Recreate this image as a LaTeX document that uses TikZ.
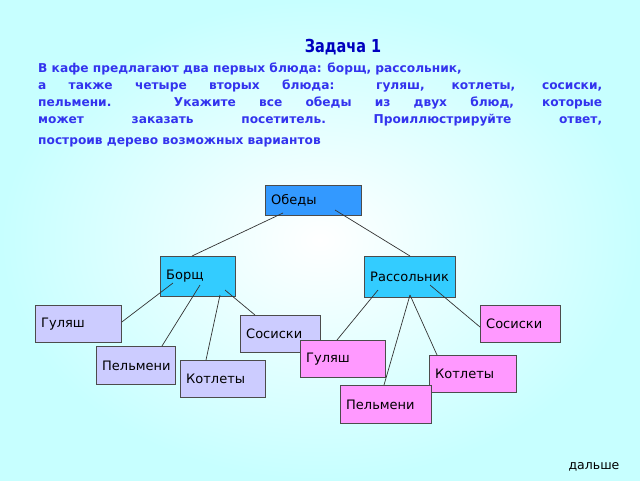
\documentclass[tikz,border=0pt]{standalone}
\usepackage{fontspec}
\setmainfont{DejaVu Sans}
\newfontfamily\condfont{DejaVu Sans Condensed}
\usetikzlibrary{calc}
\definecolor{bluet}{HTML}{3333EE}
\definecolor{cblue}{HTML}{33CCFF}
\definecolor{dblue}{HTML}{3399FF}
\definecolor{lilac}{HTML}{CCCCFF}
\definecolor{pinkb}{HTML}{FF99FF}
\begin{document}
\begin{tikzpicture}[x=1pt,y=-1pt,
  box/.style={draw=black!70,line width=0.8pt,anchor=north west,inner sep=0pt},
  lbl/.style={anchor=west,inner sep=0pt,font=\fontsize{13}{15}\selectfont},
  ln/.style={draw=black!80,line width=0.7pt}]
\useasboundingbox (0,0) rectangle (640,480);
\shade[inner color=white,outer color=cyan!22] (0,0) rectangle (640,480);
\newcommand\bx[7]{\node[box,fill=#6,minimum width=#4pt,minimum height=#5pt] (#1) at (#2,#3) {};
  \node[lbl] (#1t) at ($(#1.west)+(6,0)$) {#7};}
% title
\node[font=\condfont\bfseries\fontsize{21}{24}\selectfont,text=blue!75!black,inner sep=0pt,
  scale=0.85,xscale=0.9] (title) at (343,47) {Задача 1};
\node[anchor=north west,inner sep=0pt,text=bluet,font=\bfseries\fontsize{12.2}{17}\selectfont] (txt) at (38,63)
 {\parbox{564pt}{\setlength{\parfillskip}{0pt}%
 В кафе предлагают два первых блюда: борщ, рассольник,\\
 \hbox to 564pt{а также четыре вторых блюда: гуляш, котлеты, сосиски,}\\
 \hbox to 564pt{пельмени. Укажите все обеды из двух блюд, которые}\\
 \hbox to 564pt{может\hfil заказать\hfil посетитель.\hfil Проиллюстрируйте\hfil ответ,}\\[4pt]
 \hbox{построив дерево возможных вариантов}}};
\bx{obed}{265}{185}{96}{30}{dblue}{Обеды}
\bx{bor}{160}{256}{75}{40}{cblue}{Борщ}
\bx{ras}{364}{256}{91}{41}{cblue}{Рассольник}
\bx{g1}{35}{305}{86}{37}{lilac}{Гуляш}
\bx{s1}{240}{315}{80}{37}{lilac}{Сосиски}
\bx{p1}{96}{346}{79}{38}{lilac}{Пельмени}
\bx{k1}{180}{360}{85}{37}{lilac}{Котлеты}
\bx{s2}{480}{305}{80}{37}{pinkb}{Сосиски}
\bx{g2}{300}{340}{85}{37}{pinkb}{Гуляш}
\bx{k2}{429}{355}{87}{37}{pinkb}{Котлеты}
\bx{p2}{340}{385}{91}{38}{pinkb}{Пельмени}
% connectors
\draw[ln] ($(obed.north west)+(18,28)$) -- ($(bor.north west)+(32,0)$);
\draw[ln] ($(obed.north west)+(70,25)$) -- ($(ras.north west)+(46,0)$);
\draw[ln] ($(bor.north west)+(13,27)$) -- ($(g1.north east)+(0,17)$);
\draw[ln] ($(bor.north west)+(40,29)$) -- ($(p1.north west)+(66,0)$);
\draw[ln] ($(bor.north west)+(60,39)$) -- ($(k1.north west)+(26,0)$);
\draw[ln] ($(bor.north west)+(65,34)$) -- ($(s1.north west)+(15,0)$);
\draw[ln] ($(ras.north west)+(14,34)$) -- ($(g2.north west)+(37,0)$);
\draw[ln] ($(ras.north west)+(46,39)$) -- ($(p2.north west)+(44,0)$);
\draw[ln] ($(ras.north west)+(46,39)$) -- ($(k2.north west)+(8,0)$);
\draw[ln] ($(ras.north west)+(66,29)$) -- ($(s2.north west)+(0,22)$);
\node[font=\fontsize{12.5}{14}\selectfont,inner sep=0pt] (next) at (594,467) {дальше};
\end{tikzpicture}
\end{document}
